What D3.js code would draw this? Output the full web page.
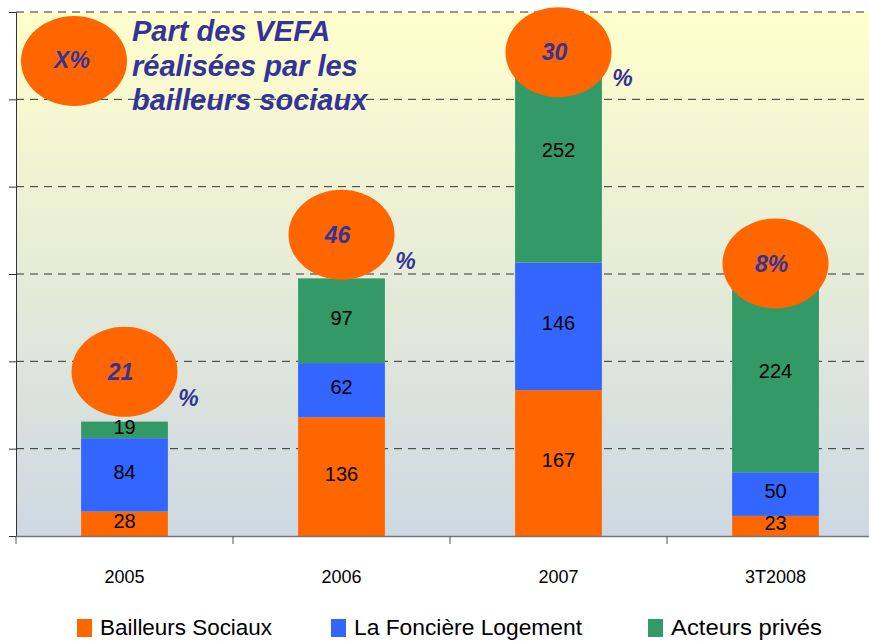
<!DOCTYPE html>
<html>
<head>
<meta charset="utf-8">
<script src="https://cdn.jsdelivr.net/npm/d3@7"></script>
<style>
  body { margin: 0; background: #fff; }
  svg { display: block; font-family: Arial, "Liberation Sans", sans-serif; }
</style>
</head>
<body>
<div id="chart"></div>
<script>
// data
const categories = ['2005', '2006', '2007', '3T2008'];
const seriesNames = ['Bailleurs Sociaux', 'La Foncière Logement', 'Acteurs privés'];
const bailleurs = [28, 136, 167, 23];
const fonciere = [84, 62, 146, 50];
const prives = [19, 97, 252, 224];
const partVefa = ['21', '46', '30', '8%'];
const partSuffix = ['%', '%', '%', ''];
// height of the ellipse centre, in chart units
const ellipseLevel = [188, 345, 554, 312];
const yTicks = [0, 100, 200, 300, 400, 500, 600];

const colors = ['#ff6600', '#3366ff', '#339966'];
const textBlue = '#333399';

const W = 869, H = 641;
const margin = { left: 16, top: 12, right: 0, bottom: 105 };
const plotW = 217 * 4, plotH = 536 - margin.top;

const svg = d3.select('#chart').append('svg')
    .attr('width', W).attr('height', H);

const defs = svg.append('defs');
const grad = defs.append('linearGradient')
    .attr('id', 'bg').attr('x1', 0).attr('y1', 0).attr('x2', 0).attr('y2', 1);
grad.append('stop').attr('offset', '0%').attr('stop-color', '#ffffcc');
grad.append('stop').attr('offset', '100%').attr('stop-color', '#cdd8e3');

const x = d3.scaleBand().domain(categories).range([0, plotW]).paddingInner(0).paddingOuter(0);
const y = d3.scaleLinear().domain([0, 600]).range([plotH, 0]);

const g = svg.append('g').attr('transform', `translate(${margin.left},${margin.top})`);

g.append('rect').attr('width', plotW).attr('height', plotH).attr('fill', 'url(#bg)');

// dashed gridlines
g.selectAll('.grid').data(yTicks.filter(d => d > 0)).join('line')
    .attr('x1', 0).attr('x2', plotW)
    .attr('y1', d => y(d)).attr('y2', d => y(d))
    .attr('stroke', '#333').attr('stroke-width', 1)
    .attr('stroke-dasharray', '8,6');

// stacked bars
const rows = categories.map((c, i) => ({ cat: c, s0: bailleurs[i], s1: fonciere[i], s2: prives[i] }));
const stack = d3.stack().keys(['s0', 's1', 's2'])(rows);
const barW = x.bandwidth() * 0.4;

stack.forEach((layer, k) => {
    const lg = g.append('g');
    lg.selectAll('rect').data(layer).join('rect')
        .attr('x', d => x(d.data.cat) + (x.bandwidth() - barW) / 2)
        .attr('width', barW)
        .attr('y', d => y(d[1]))
        .attr('height', d => y(d[0]) - y(d[1]))
        .attr('fill', colors[k]);
    lg.selectAll('text').data(layer).join('text')
        .attr('x', d => x(d.data.cat) + x.bandwidth() / 2)
        .attr('y', d => (y(d[0]) + y(d[1])) / 2 + 4)
        .attr('text-anchor', 'middle')
        .attr('font-size', 20)
        .attr('fill', '#000')
        .text(d => d[1] - d[0]);
});

// y axis
const yAxis = g.append('g').call(d3.axisLeft(y).tickValues(yTicks).tickSize(7).tickFormat(''));
yAxis.select('.domain').attr('stroke', '#333');
yAxis.selectAll('.tick line').attr('stroke', '#333');

// x axis
const xAxis = g.append('g').attr('transform', `translate(0,${plotH})`)
    .call(d3.axisBottom(x).tickSize(0).tickPadding(34));
xAxis.select('.domain').attr('stroke', '#777').attr('stroke-width', 1.5);
xAxis.selectAll('text').attr('font-size', 18).attr('fill', '#000')
    .attr('font-family', 'Arial, "Liberation Sans", sans-serif');
xAxis.selectAll('.sep').data(categories).join('line')
    .attr('x1', d => x(d)).attr('x2', d => x(d))
    .attr('y1', 0).attr('y2', 8)
    .attr('stroke', '#555');

// ellipses with the share
const ann = g.append('g');
categories.forEach((c, i) => {
    const cx = x(c) + x.bandwidth() / 2;
    const cy = y(ellipseLevel[i]);
    ann.append('ellipse').attr('cx', cx).attr('cy', cy)
        .attr('rx', 53).attr('ry', 45).attr('fill', '#ff6600');
    ann.append('text').attr('x', cx - 4).attr('y', cy + 8)
        .attr('text-anchor', 'middle')
        .attr('font-size', 23).attr('font-weight', 'bold').attr('font-style', 'italic')
        .attr('fill', textBlue).text(partVefa[i]);
    if (partSuffix[i]) {
        ann.append('text').attr('x', cx + 64).attr('y', cy + 34)
            .attr('text-anchor', 'middle')
            .attr('font-size', 23).attr('font-weight', 'bold').attr('font-style', 'italic')
            .attr('fill', textBlue).text(partSuffix[i]);
    }
});

// explanatory ellipse + title
svg.append('ellipse').attr('cx', 74).attr('cy', 61).attr('rx', 53).attr('ry', 45).attr('fill', '#ff6600');
svg.append('text').attr('x', 72).attr('y', 68).attr('text-anchor', 'middle')
    .attr('font-size', 23).attr('font-weight', 'bold').attr('font-style', 'italic')
    .attr('fill', textBlue).text('X%');
const title = svg.append('text').attr('x', 132).attr('y', 41)
    .attr('font-size', 29).attr('font-weight', 'bold').attr('font-style', 'italic')
    .attr('fill', textBlue);
['Part des VEFA', 'réalisées par les', 'bailleurs sociaux'].forEach((t, i) => {
    title.append('tspan').attr('x', 132).attr('dy', i === 0 ? 0 : 34.5).text(t);
});

// legend
const legendX = [77, 331, 648];
const legendLen = [172, 228, 151];
const legend = svg.append('g').attr('transform', 'translate(0,619)');
seriesNames.forEach((n, i) => {
    legend.append('rect').attr('x', legendX[i]).attr('y', 0).attr('width', 15).attr('height', 18).attr('fill', colors[i]);
    legend.append('text').attr('x', legendX[i] + 23).attr('y', 16)
        .attr('font-size', 22)
        .attr('textLength', legendLen[i]).attr('lengthAdjust', 'spacingAndGlyphs')
        .attr('fill', '#000').text(n);
});
</script>
</body>
</html>
